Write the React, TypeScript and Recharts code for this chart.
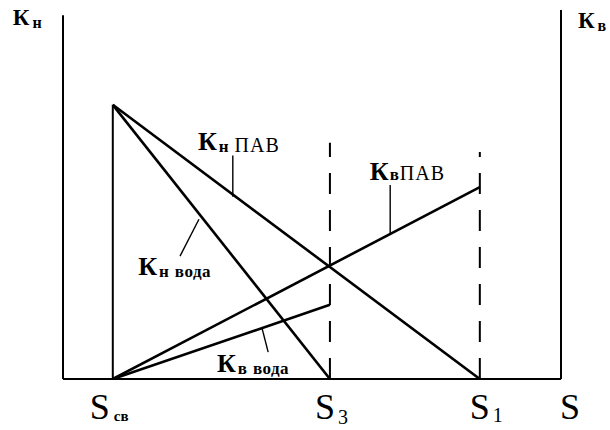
import React from "react";
import { LineChart, Line, XAxis, YAxis, ReferenceLine, ReferenceDot } from "recharts";

// Schematic: distribution coefficients Kн / Kв versus S (surfactant vs water).
// x and y are in arbitrary units 0..100 (no numeric scale is shown).

const S_TICKS = [10, 53.6, 83.7, 100]; // Sсв, S3, S1, S
const S_TICK_SUBS = ["св", "3", "1", ""];

const KN_PAV = [
  { x: 10, y: 74.3 },
  { x: 83.7, y: 0 },
];
const KN_VODA = [
  { x: 10, y: 74.3 },
  { x: 53.6, y: 0 },
];
const KV_PAV = [
  { x: 10, y: 0 },
  { x: 83.7, y: 52.0 },
];
const KV_VODA = [
  { x: 10, y: 0 },
  { x: 53.6, y: 20.1 },
];

// dashed guides at S3 and S1 (x, top)
const GUIDES = [
  { x: 53.6, top: 64.0 },
  { x: 83.7, top: 61.5 },
];

// annotation anchors (data units) and their leader lines
const CURVE_LABELS = [
  { id: "knpav", sub: "н", rest: "ПАВ", x: 27.1, y: 62.1, lead: [[34.1, 60.6], [34.1, 49.4]] },
  { id: "kvpav", sub: "в", rest: "ПАВ", x: 61.6, y: 53.9, lead: [[65.7, 52.6], [65.7, 39.4]] },
  { id: "knvoda", sub: "н", rest: "вода", x: 15.1, y: 28.2, lead: [[23.5, 33.3], [27.3, 43.3]] },
  { id: "kvvoda", sub: "в", rest: "вода", x: 30.9, y: 1.9, lead: [[41.2, 7.3], [40.0, 13.6]] },
];

const AXIS_TITLES = [
  { id: "kn", sub: "н", x: -10.1, y: 95.9 },
  { id: "kv", sub: "в", x: 103.4, y: 95.1 },
];

const FONT = "'Liberation Serif', 'DejaVu Serif', serif";
const TICK_DX = [-23, -15, -10, -1];
const SUB_DY = [2, 5, 3, 0];

function STick(props: any) {
  const { x, y, payload } = props;
  const i = S_TICKS.indexOf(payload.value);
  const sub = S_TICK_SUBS[i];
  const small = sub === "св";
  return (
    <text x={x + TICK_DX[i]} y={y + 32} fontFamily={FONT} fontSize={36} fill="#000">
      S
      {sub ? (
        <tspan
          dx={small ? 4 : 3}
          dy={SUB_DY[i]}
          fontSize={small ? 15 : 20}
          fontWeight={small ? 700 : 400}
        >
          {sub}
        </tspan>
      ) : null}
    </text>
  );
}

function curveLabel(l: (typeof CURVE_LABELS)[number]) {
  const pav = l.rest === "ПАВ";
  const tight = l.id === "kvpav";
  return (props: any) => {
    const vb = props.viewBox || {};
    return (
      <text x={vb.x} y={vb.y} fontFamily={FONT} fill="#000">
        <tspan fontSize={26} fontWeight={700}>К</tspan>
        <tspan fontSize={17} fontWeight={700} dx={tight ? 1 : 2} dy={tight ? 0 : 2}>
          {l.sub}
        </tspan>
        <tspan
          fontSize={pav ? 20 : 17}
          fontWeight={pav ? 400 : 700}
          dx={tight ? 1 : 6}
          letterSpacing={pav ? 1 : 0.5}
        >
          {l.rest}
        </tspan>
      </text>
    );
  };
}

function axisTitle(t: (typeof AXIS_TITLES)[number]) {
  return (props: any) => {
    const vb = props.viewBox || {};
    return (
      <text x={vb.x} y={vb.y} fontFamily={FONT} fill="#000">
        <tspan fontSize={23} fontWeight={700}>К</tspan>
        <tspan fontSize={16} fontWeight={700} dx={3} dy={3}>
          {t.sub}
        </tspan>
      </text>
    );
  };
}

export default function App() {
  const line = { stroke: "#000", strokeWidth: 2.6, dot: false, isAnimationActive: false, type: "linear" as const };
  return (
    <div style={{ position: "absolute", left: 0, top: 0, width: 610, height: 430, background: "#fff" }}>
      <LineChart width={610} height={430} margin={{ top: 10, right: 49, bottom: 0, left: 63 }}>
        <XAxis
          dataKey="x"
          type="number"
          domain={[0, 100]}
          ticks={S_TICKS}
          interval={0}
          tickLine={false}
          axisLine={{ stroke: "#000", strokeWidth: 2 }}
          height={51}
          tick={<STick />}
          allowDataOverflow
        />
        <YAxis hide type="number" domain={[0, 100]} allowDataOverflow />

        {/* frame: left and right ordinate axes */}
        <ReferenceLine segment={[{ x: 0, y: 0 }, { x: 0, y: 98.6 }]} stroke="#000" strokeWidth={2} />
        <ReferenceLine segment={[{ x: 100, y: 0 }, { x: 100, y: 100 }]} stroke="#000" strokeWidth={2} />

        {/* vertical at Sсв */}
        <ReferenceLine segment={[{ x: 10, y: 0 }, { x: 10, y: 74.3 }]} stroke="#000" strokeWidth={2} />

        {GUIDES.map((g) => (
          <ReferenceLine
            key={g.x}
            segment={[{ x: g.x, y: 0 }, { x: g.x, y: g.top }]}
            stroke="#000"
            strokeWidth={2}
            strokeDasharray="21 16"
          />
        ))}

        <Line data={KN_PAV} dataKey="y" {...line} />
        <Line data={KN_VODA} dataKey="y" {...line} />
        <Line data={KV_PAV} dataKey="y" {...line} />
        <Line data={KV_VODA} dataKey="y" {...line} />

        {CURVE_LABELS.map((l) => (
          <ReferenceLine
            key={l.id + "-lead"}
            segment={[
              { x: l.lead[0][0], y: l.lead[0][1] },
              { x: l.lead[1][0], y: l.lead[1][1] },
            ]}
            stroke="#000"
            strokeWidth={1.4}
          />
        ))}
        {CURVE_LABELS.map((l) => (
          <ReferenceDot
            key={l.id}
            x={l.x}
            y={l.y}
            r={0}
            fill="none"
            stroke="none"
            ifOverflow="visible"
            label={{ content: curveLabel(l) }}
          />
        ))}
        {AXIS_TITLES.map((t) => (
          <ReferenceDot
            key={t.id}
            x={t.x}
            y={t.y}
            r={0}
            fill="none"
            stroke="none"
            ifOverflow="visible"
            label={{ content: axisTitle(t) }}
          />
        ))}
      </LineChart>
    </div>
  );
}
